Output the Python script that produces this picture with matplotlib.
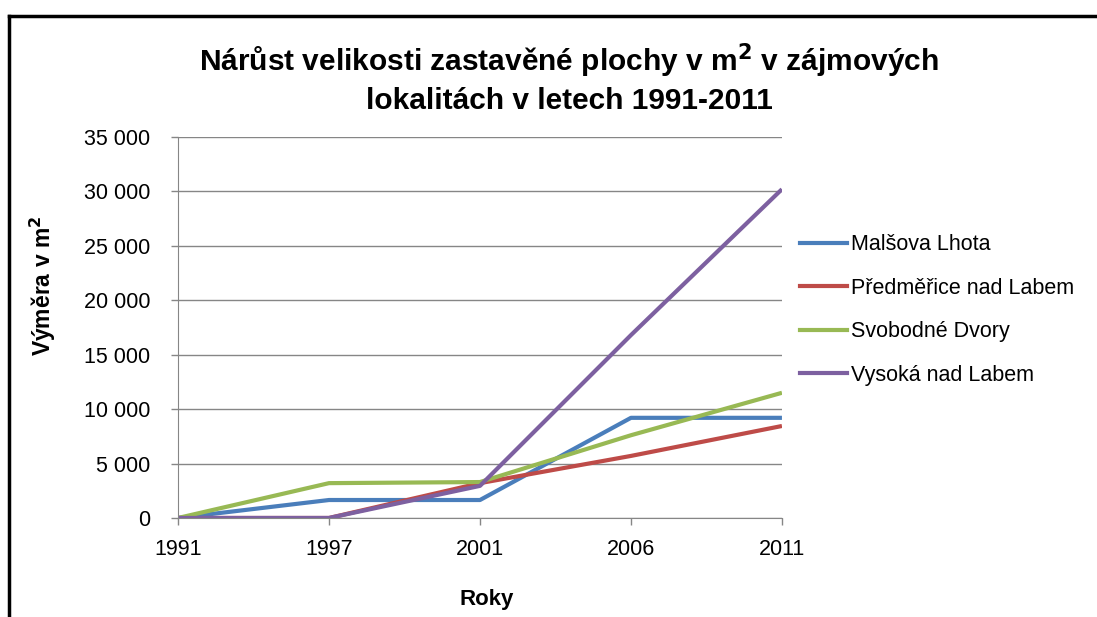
import matplotlib
matplotlib.use("Agg")
from matplotlib import pyplot as plt
from matplotlib.lines import Line2D
from matplotlib.ticker import FuncFormatter

plt.rcParams['font.family'] = ['Liberation Sans', 'DejaVu Sans']

years = ["1991", "1997", "2001", "2006", "2011"]
malsova = [0, 1650, 1650, 9200, 9200]
predmerice = [0, 0, 3200, 5700, 8450]
svobodne = [0, 3200, 3300, 7600, 11500]
vysoka = [0, 0, 2950, 16800, 30200]

names = ["Malšova Lhota", "Předměřice nad Labem", "Svobodné Dvory", "Vysoká nad Labem"]
series = [malsova, predmerice, svobodne, vysoka]
colors = ["#4a7ebb", "#be4b48", "#98b954", "#7d60a0"]

fig = plt.figure(figsize=(10.97, 6.17), dpi=100)
ax = fig.add_axes([0.1623, 0.1605, 0.5505, 0.6175])

x = range(len(years))
for vals, name, c in zip(series, names, colors):
    ax.plot(x, vals, color=c, lw=3, label=name, solid_capstyle="butt")

ax.set_xlim(0, len(years) - 1)
ax.set_ylim(0, 35000)
ax.set_yticks(range(0, 35001, 5000))
ax.yaxis.set_major_formatter(FuncFormatter(lambda v, p: f"{int(v):,}".replace(",", " ")))
ax.set_xticks(list(x))
ax.set_xticklabels(years)
ax.grid(axis="y", color="#868686", lw=1)
ax.set_axisbelow(True)
for s in ["top", "right"]:
    ax.spines[s].set_visible(False)
for s in ["left", "bottom"]:
    ax.spines[s].set_color("#868686")
ax.tick_params(colors="#868686", labelcolor="black", labelsize=15.5, length=5, width=1)
ax.tick_params(axis="x", pad=10)
ax.tick_params(axis="y", pad=15)

fig.text(487 / 1097, 1 - 600 / 617, "Roky", ha="center", va="center", fontsize=16, fontweight="bold")
fig.text(43 / 1097, 1 - 286 / 617, "Výměra v m$^\\mathbf{2}$", ha="center", va="center",
         rotation=90, fontsize=16.5, fontweight="bold")

fig.text(0.519, 1 - 78 / 617, "Nárůst velikosti zastavěné plochy v m$^\\mathbf{2}$ v zájmových\nlokalitách v letech 1991-2011",
         ha="center", va="center", fontsize=21.5, fontweight="bold", linespacing=1.3)

handles = [Line2D([], [], color=c, lw=3) for c in colors]
fig.legend(handles, names, loc="center left", bbox_to_anchor=(800 / 1097, 1 - 310 / 617), frameon=False,
           fontsize=15.5, handlelength=2.2, handletextpad=0.15, labelspacing=1.05, borderpad=0,
           borderaxespad=0)

# ramecek kolem grafu
fig.add_artist(Line2D([0.008, 0.008], [0, 0.974], color="black", lw=2.5, transform=fig.transFigure))
fig.add_artist(Line2D([0.008, 1.0], [0.974, 0.974], color="black", lw=2.5, transform=fig.transFigure))

plt.savefig("out.png", dpi=100)
